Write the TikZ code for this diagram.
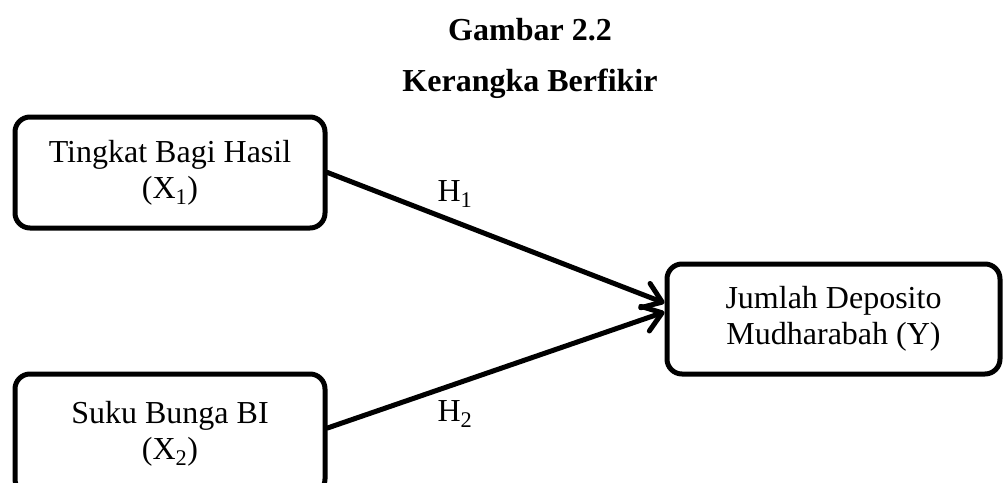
\documentclass[tikz,border=0pt]{standalone}
\usepackage{fontspec}
\setmainfont{Liberation Serif}
\usetikzlibrary{arrows.meta}
\begin{document}
\begin{tikzpicture}[x=1pt,y=-1pt,
  every node/.style={font=\fontsize{32}{36}\selectfont},
  varbox/.style={draw=black,line width=5pt,rounded corners=15pt,align=center,inner sep=0pt,fill=white},
  link/.style={line width=5pt,line cap=round,line join=round,-{Straight Barb[length=18pt,width=26pt,line cap=round,line join=round]}},
  hlabel/.style={inner sep=0pt}]
\useasboundingbox (0,0) rectangle (1004,482);
\node[font=\fontsize{32}{36}\selectfont\bfseries,anchor=base] (t1) at (530,40) {Gambar 2.2};
\node[font=\fontsize{32}{36}\selectfont\bfseries,anchor=base] (t2) at (530,91) {Kerangka Berfikir};
\node[varbox,minimum width=310pt,minimum height=111pt] (b1) at (170,172.5) {Tingkat Bagi Hasil\\(X\textsubscript{1})};
\node[varbox,minimum width=310pt,minimum height=120pt] (b2) at (170,434) {\raisebox{0pt}{Suku Bunga BI}\\(X\textsubscript{2})};
\node[varbox,minimum width=333pt,minimum height=110pt] (y) at (833.5,319) {Jumlah Deposito\\Mudharabah (Y)};
\draw[link] (b1.east) -- ([yshift=16pt]y.west);
\draw[link] ([yshift=6pt]b2.east) -- ([yshift=7pt]y.west);
\node[hlabel] (h1) at (455,194) {H\textsubscript{1}};
\node[hlabel] (h2) at (455,414) {H\textsubscript{2}};
\end{tikzpicture}
\end{document}
